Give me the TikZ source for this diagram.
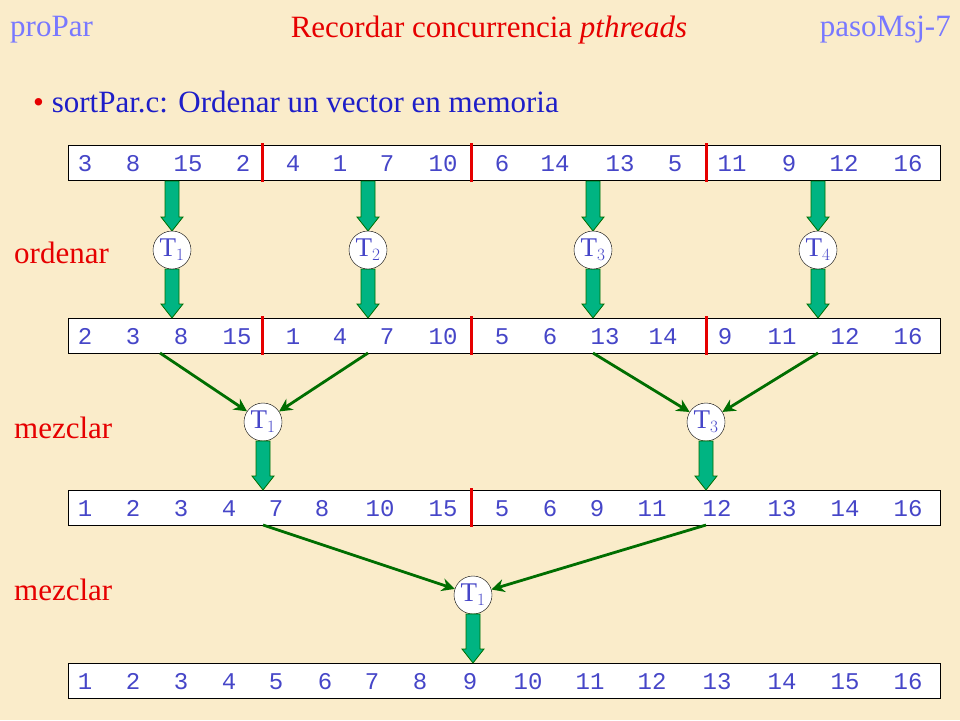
\documentclass[tikz,border=0pt]{standalone}
\usepackage{fontspec}
\setmainfont{Liberation Serif}
\newfontfamily\monof{Liberation Mono}
\usetikzlibrary{arrows.meta}
\definecolor{bg}{RGB}{250,236,202}
\definecolor{numc}{RGB}{70,70,200}
\definecolor{titlered}{RGB}{230,0,0}
\definecolor{lblue}{RGB}{120,120,255}
\definecolor{dblue}{RGB}{30,30,200}
\definecolor{teal}{RGB}{0,180,130}
\definecolor{dgreen}{RGB}{0,110,0}
\newcommand\fatarr[3]{\filldraw[fill=teal,draw=dgreen,line width=0.8pt] (#1-7,#2) -- (#1+7,#2) -- (#1+7,#3-14) -- (#1+11,#3-14) -- (#1,#3) -- (#1-11,#3-14) -- (#1-7,#3-14) -- cycle;}
\begin{document}
\begin{tikzpicture}[x=1pt,y=-1pt,
  num/.style={font=\monof\fontsize{24}{24}\selectfont,text=numc,inner sep=0pt,anchor=base},
  vec/.style={draw=black,fill=white,line width=0.9pt},
  sep/.style={draw=titlered,line width=3pt},
  thr/.style={circle,draw=black,fill=white,minimum size=38pt,inner sep=0pt,text=numc,font=\fontsize{27}{27}\selectfont},
  lbl/.style={text=titlered,font=\fontsize{31}{31}\selectfont,anchor=west,inner sep=0pt},
  thin/.style={draw=dgreen,line width=2.8pt,-{Stealth[length=13pt,width=13pt]}}]
\fill[bg] (0,0) rectangle (960,720);
\useasboundingbox (0,0) rectangle (960,720);
\node[anchor=west,text=lblue,font=\fontsize{31}{31}\selectfont,inner sep=0pt] (h1) at (10,30) {proPar};
\node[text=titlered,font=\fontsize{31}{31}\selectfont,inner sep=0pt] (h2) at (489,30) {Recordar concurrencia \textit{pthreads}};
\node[anchor=east,text=lblue,font=\fontsize{31}{31}\selectfont,inner sep=0pt] (h3) at (951,30) {pasoMsj-7};
\node[anchor=west,text=dblue,font=\fontsize{31}{31}\selectfont,inner sep=0pt] (b) at (33,102) {\textcolor{titlered}{\textbullet}\ sortPar.c: Ordenar un vector en memoria};
% rows
\foreach \y in {145,318,490,663} \draw[vec] (68,\y) rectangle (940,\y+35);
\foreach \x in {262,471,706} {\draw[sep] (\x,143) -- (\x,182); \draw[sep] (\x,316) -- (\x,355);}
\draw[sep] (471,488) -- (471,527);
\foreach \n/\x in {3/85,8/133,15/188,2/243,4/293,1/340,7/387,10/443,6/502,14/555,13/620,5/675,11/732,9/789,12/844,16/908}
  \node[num] at (\x,171) {\n};
\foreach \n/\x in {2/85,3/133,8/181,15/237,1/293,4/340,7/387,10/443,5/502,6/550,13/605,14/663,9/725,11/782,12/845,16/908}
  \node[num] at (\x,344) {\n};
\foreach \n/\x in {1/85,2/133,3/181,4/229,7/276,8/322,10/380,15/443,5/502,6/550,9/597,11/652,12/717,13/782,14/845,16/908}
  \node[num] at (\x,516) {\n};
\foreach \n/\x in {1/85,2/133,3/181,4/229,5/276,6/325,7/372,8/420,9/470,10/528,11/590,12/652,13/717,14/782,15/845,16/908}
  \node[num] at (\x,689) {\n};
% labels
\node[lbl] (l1) at (14,253) {ordenar};
\node[lbl] (l2) at (14,428) {mezclar};
\node[lbl] (l3) at (14,590) {mezclar};
% ordenar
\foreach \x/\i in {172/1,368/2,593/3,818/4} {
  \fatarr{\x}{181}{231}
  \fatarr{\x}{269}{318}
  \node[thr] (t\i) at (\x,250) {T$_{\i}$};
}
% mezclar 1
\node[thr] (m1) at (263,422) {T$_1$};
\node[thr] (m3) at (706,422) {T$_3$};
\coordinate (a1) at (160,353); \coordinate (a2) at (368,353);
\coordinate (a3) at (593,353); \coordinate (a4) at (818,353);
\draw[thin] (a1) -- (m1); \draw[thin] (a2) -- (m1);
\draw[thin] (a3) -- (m3); \draw[thin] (a4) -- (m3);
\fatarr{263}{441}{490}
\fatarr{706}{441}{490}
% mezclar 2
\node[thr] (f1) at (473,595) {T$_1$};
\coordinate (c1) at (263,525); \coordinate (c2) at (706,525);
\draw[thin] (c1) -- (f1); \draw[thin] (c2) -- (f1);
\fatarr{473}{614}{663}
\end{tikzpicture}
\end{document}
